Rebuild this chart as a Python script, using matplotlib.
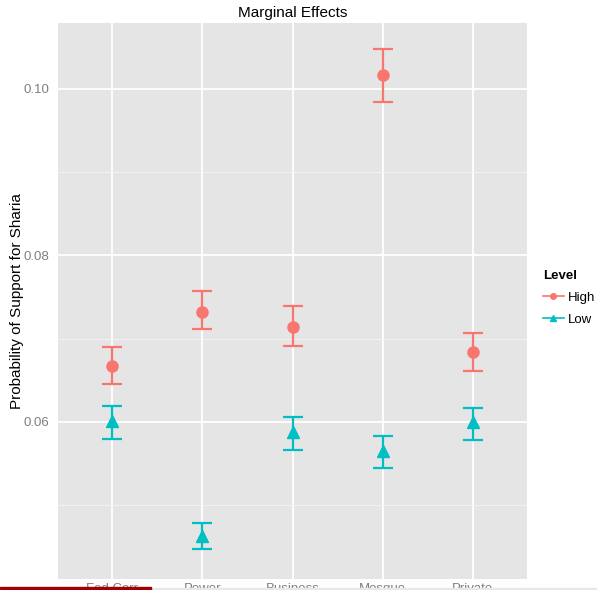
import matplotlib.pyplot as plt
from matplotlib.lines import Line2D
from matplotlib.patches import Rectangle

plt.rcParams['font.family'] = ['Liberation Sans', 'DejaVu Sans']

categories = ['Fed Corr', 'Power', 'Business', 'Mosque', 'Private']

high = [0.0667, 0.0732, 0.0714, 0.1017, 0.0684]
high_lo = [0.0646, 0.0711, 0.0691, 0.0984, 0.0661]
high_hi = [0.0690, 0.0757, 0.0739, 0.1048, 0.0707]

low = [0.0601, 0.0463, 0.0588, 0.0565, 0.0600]
low_lo = [0.0580, 0.0447, 0.0566, 0.0545, 0.0578]
low_hi = [0.0619, 0.0479, 0.0606, 0.0583, 0.0617]

red = '#F8766D'
teal = '#00BFC4'

fig = plt.figure(figsize=(5.97, 5.90), dpi=100)
ax = fig.add_axes([58 / 597, 1 - 578.5 / 590, 469 / 597, 555.5 / 590])
ax.set_facecolor('#E5E5E5')

x = list(range(len(categories)))
for vals, lo, hi, col, mk, ms in [(high, high_lo, high_hi, red, 'o', 8),
                                   (low, low_lo, low_hi, teal, '^', 8.5)]:
    err = [[v - l for v, l in zip(vals, lo)], [h - v for v, h in zip(vals, hi)]]
    ax.errorbar(x, vals, yerr=err, fmt=mk, color=col, ms=ms, elinewidth=1.6,
                capsize=7, capthick=1.6, zorder=3)

ax.set_xlim(-0.6, 4.6)
ax.set_ylim(0.0412, 0.1079)
ax.set_xticks(x)
ax.set_xticklabels(categories)
ax.set_yticks([0.06, 0.08, 0.10])
ax.set_yticklabels(['0.06', '0.08', '0.10'])
ax.set_yticks([0.05, 0.07, 0.09], minor=True)
ax.grid(True, which='major', color='white', linewidth=1.3, zorder=0)
ax.grid(True, which='minor', axis='y', color='#F2F2F2', linewidth=0.7, zorder=0)
ax.set_axisbelow(True)
for s in ax.spines.values():
    s.set_visible(False)
ax.tick_params(which='both', length=0, colors='#7F7F7F', labelsize=9.5, pad=6)
ax.tick_params(axis='x', pad=3)

ax.set_title('Marginal Effects', fontsize=11, pad=4)
ax.set_ylabel('Probability of Support for Sharia', fontsize=11, labelpad=0)

handles = [Line2D([], [], color=red, marker='o', ms=4, lw=1.2),
           Line2D([], [], color=teal, marker='^', ms=4.5, lw=1.2)]
leg = ax.legend(handles, ['High', 'Low'], title='Level', loc='center left',
                bbox_to_anchor=(1.0, 0.505), frameon=False, fontsize=9.5,
                handlelength=1.6, handletextpad=0.3, labelspacing=0.75,
                borderaxespad=0.8)
leg.get_title().set_fontweight('bold')
leg.get_title().set_fontsize(9.5)
leg._legend_box.align = 'left'

fig.add_artist(Rectangle((0, 0), 1, 2 / 590, color='#E8E8E8',
                         transform=fig.transFigure, zorder=10))
fig.add_artist(Rectangle((0, 0), 151 / 597, 3 / 590, color='#A00000',
                         transform=fig.transFigure, zorder=11))

fig.savefig('out.png', dpi=100)
